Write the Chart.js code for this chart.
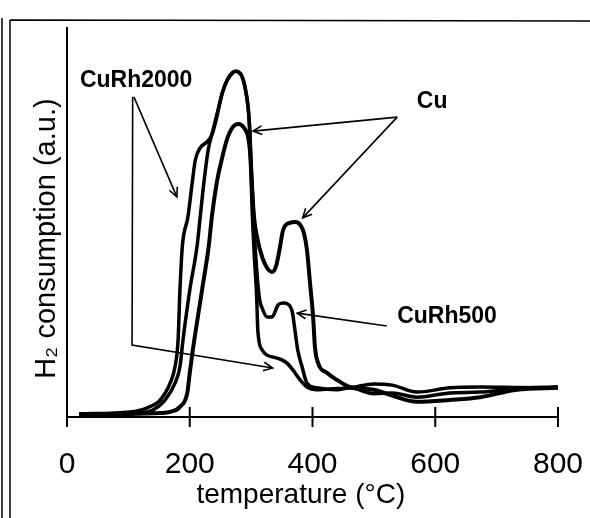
<!DOCTYPE html>
<html>
<head>
<meta charset="utf-8">
<script src="https://cdn.jsdelivr.net/npm/chart.js@4.4.0/dist/chart.umd.min.js"></script>
<style>
  html, body { margin: 0; padding: 0; background: #fff; }
  #wrap { width: 590px; height: 518px; position: relative; }
</style>
</head>
<body>
<div id="wrap"><canvas id="tpr"></canvas></div>
<script>
// tick labels on the temperature axis
const tempTicks = [0, 200, 400, 600, 800];

// Cu : lower first peak, big second peak near 375 C
const cuT  = [20, 100, 152, 168, 184, 196, 200, 205, 220, 231, 236, 244, 252, 262, 274, 280, 287, 295, 298, 301, 305, 310, 318, 326, 334, 341, 347, 352, 363, 372, 380, 386, 391, 396, 401, 404, 409, 424, 440, 461, 500, 530, 570, 624, 673, 733, 800];
const cuH2 = [0.8, 0.8, 1.0, 1.3, 2.6, 6.2, 11.3, 17.2, 32.6, 44, 51.4, 60.2, 66.1, 72, 75.1, 75.3, 74.6, 72, 68.6, 60.2, 51, 46, 41.1, 38.3, 37.3, 39, 43.7, 48, 49.9, 50.1, 49.4, 47.3, 42.9, 34.4, 25.7, 18, 13.9, 11.3, 9.5, 7.7, 7.0, 5.5, 3.9, 4.4, 5.1, 7.0, 7.5];

// CuRh500 : tall peak, shoulder near 360 C
const rh500T  = [20, 100, 119, 140, 160, 176, 184, 189, 200, 212, 217, 223, 230, 238, 246, 253, 261, 269, 275, 284, 290, 295, 298, 301, 305, 310, 314, 318, 326, 334, 344, 352, 360, 367, 372, 376, 383, 391, 407, 440, 461, 500, 530, 570, 624, 673, 733, 800];
const rh500H2 = [0.8, 0.8, 1.0, 1.8, 4.4, 8.7, 12.9, 19.8, 32.6, 44, 51.4, 60.2, 68.6, 73.8, 78.9, 83.3, 86.6, 88.4, 88.9, 87.9, 84.8, 79.7, 73, 62, 48, 36, 30, 28, 25.7, 25.7, 28.8, 29.3, 29, 27, 21.6, 17.2, 12.9, 8.7, 7.5, 7.0, 7.5, 6.0, 6.2, 5.1, 6.2, 6.4, 7.3, 7.8];

// CuRh2000 : earliest rise with shoulder near 220 C, tall peak
const rh2000T  = [20, 103, 130, 152, 168, 176, 181, 184, 188, 197, 204, 209, 217, 228, 236, 244, 253, 261, 269, 275, 284, 290, 295, 298, 301, 305, 309, 311, 318, 326, 336, 350, 358, 368, 380, 391, 407, 440, 461, 500, 530, 570, 624, 673, 733, 800];
const rh2000H2 = [0.8, 1.3, 2.3, 4.4, 8.7, 12.9, 19.8, 32.6, 44, 51.4, 60.2, 66, 69.2, 70.7, 72.5, 77.1, 83.3, 86.6, 88.4, 88.9, 87.9, 84.8, 79.7, 73, 56, 42, 31, 22, 17.2, 15.9, 15.4, 14.7, 13.9, 12.1, 9.5, 7.7, 7.0, 7.3, 7.5, 8.5, 8.2, 6.4, 7.5, 7.7, 7.6, 7.5];

function pts(xs, ys) {
    return xs.map((x, i) => ({ x: x, y: ys[i] }));
}

// labels and arrows, in data units (temperature, consumption)
const labels = [
    { text: 'CuRh2000', x: 21, y: 86.4 },
    { text: 'Cu', x: 570, y: 81 },
    { text: 'CuRh500', x: 538, y: 25.7 }
];
const arrows = [
    [[109, 82.3], [179, 56.6]],
    [[107, 82.3], [106, 18.5], [335, 12.6]],
    [[538, 77.1], [303, 73.5]],
    [[538, 77.1], [384, 51.2]],
    [[521, 23.4], [375, 26.7]]
];

Chart.defaults.font.family = "'Liberation Sans', Arial, sans-serif";
Chart.defaults.color = '#000';

const decor = {
    id: 'decor',
    afterDraw(chart) {
        const ctx = chart.ctx;
        const xs = chart.scales.x, ys = chart.scales.y;
        ctx.save();
        ctx.strokeStyle = '#000';
        ctx.fillStyle = '#000';

        // scanned frame lines
        ctx.lineWidth = 1.5;
        ctx.beginPath();
        ctx.moveTo(2, 18); ctx.lineTo(2, 518);
        ctx.moveTo(10, 20); ctx.lineTo(10, 518);
        ctx.moveTo(10, 20); ctx.lineTo(590, 21);
        ctx.stroke();

        // tick marks crossing the x axis
        ctx.lineWidth = 2;
        ctx.beginPath();
        tempTicks.forEach(t => {
            const px = xs.getPixelForValue(t);
            ctx.moveTo(px, xs.top - 10);
            ctx.lineTo(px, xs.top + 10);
        });
        ctx.stroke();

        // arrows
        ctx.lineWidth = 1.6;
        arrows.forEach(a => {
            ctx.beginPath();
            a.forEach((p, i) => {
                const px = xs.getPixelForValue(p[0]), py = ys.getPixelForValue(p[1]);
                if (i === 0) ctx.moveTo(px, py); else ctx.lineTo(px, py);
            });
            ctx.stroke();
            const n = a.length;
            const x1 = xs.getPixelForValue(a[n - 2][0]), y1 = ys.getPixelForValue(a[n - 2][1]);
            const x2 = xs.getPixelForValue(a[n - 1][0]), y2 = ys.getPixelForValue(a[n - 1][1]);
            const ang = Math.atan2(y2 - y1, x2 - x1);
            ctx.beginPath();
            ctx.moveTo(x2 - 10 * Math.cos(ang - 0.45), y2 - 10 * Math.sin(ang - 0.45));
            ctx.lineTo(x2, y2);
            ctx.lineTo(x2 - 10 * Math.cos(ang + 0.45), y2 - 10 * Math.sin(ang + 0.45));
            ctx.stroke();
        });

        // curve labels
        ctx.font = "bold 23px 'Liberation Sans', Arial, sans-serif";
        ctx.textBaseline = 'middle';
        ctx.textAlign = 'left';
        labels.forEach(l => {
            ctx.fillText(l.text, xs.getPixelForValue(l.x), ys.getPixelForValue(l.y));
        });
        ctx.restore();
    }
};

const line = {
    borderColor: '#000',
    borderWidth: 3.5,
    pointRadius: 0,
    cubicInterpolationMode: 'monotone',
    fill: false
};

new Chart(document.getElementById('tpr'), {
    type: 'line',
    data: {
        datasets: [
            Object.assign({ label: 'Cu', data: pts(cuT, cuH2) }, line, { borderWidth: 4 }),
            Object.assign({ label: 'CuRh500', data: pts(rh500T, rh500H2) }, line),
            Object.assign({ label: 'CuRh2000', data: pts(rh2000T, rh2000H2) }, line)
        ]
    },
    options: {
        responsive: true,
        maintainAspectRatio: false,
        animation: false,
        layout: { padding: { top: 28, right: 32, left: 0, bottom: 0 } },
        plugins: {
            legend: { display: false },
            tooltip: { enabled: false }
        },
        scales: {
            x: {
                type: 'linear',
                min: 0,
                max: 800,
                afterBuildTicks: s => { s.ticks = tempTicks.map(v => ({ value: v })); },
                afterFit: s => { s.height = 101; s.paddingLeft = 0; s.paddingRight = 0; },
                grid: { display: false },
                border: { color: '#000', width: 2 },
                ticks: { font: { size: 30 }, padding: 22, color: '#000' },
                title: {
                    display: true,
                    text: 'temperature (°C)   ',
                    font: { size: 28 },
                    color: '#000',
                    padding: { top: 0, bottom: 6 }
                }
            },
            y: {
                min: 0,
                max: 100,
                afterFit: s => { s.width = 67; },
                grid: { display: false },
                border: { color: '#000', width: 2 },
                ticks: { display: false },
                title: {
                    display: true,
                    text: 'H₂ consumption (a.u.)    ',
                    font: { size: 29 },
                    color: '#000',
                    padding: { top: 30, bottom: 0 }
                }
            }
        }
    },
    plugins: [decor]
});
</script>
</body>
</html>
